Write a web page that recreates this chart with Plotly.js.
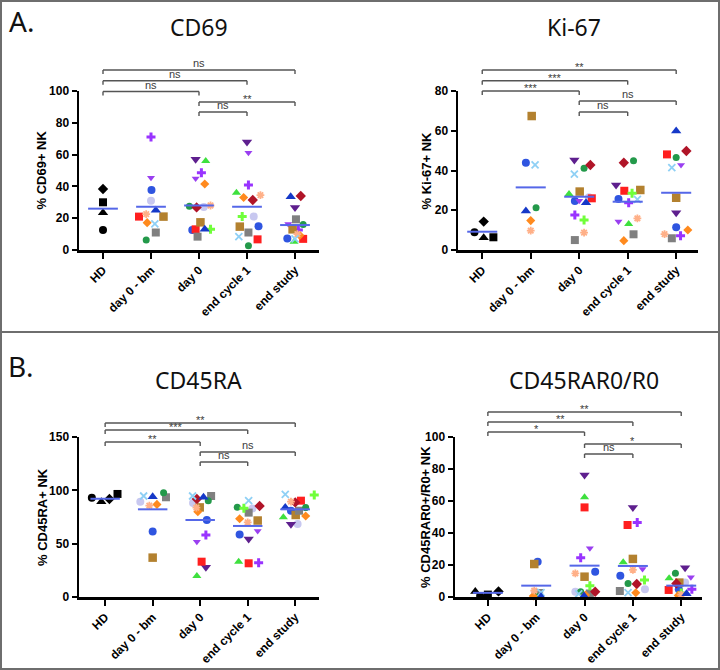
<!DOCTYPE html>
<html><head><meta charset="utf-8">
<script src="https://cdn.plot.ly/plotly-3.0.1.min.js"></script>
<style>html,body{margin:0;padding:0;background:#fff}#chart{width:720px;height:670px}</style>
</head><body><div id="chart"></div>
<script>
// ---------------- DATA ----------------
const GROUPS = ["HD", "day 0 - bm", "day 0", "end cycle 1", "end study"];
const SUBJECTS = ["HD 1","HD 2","HD 3","HD 4","Pt 1","Pt 2","Pt 3","Pt 4","Pt 5","Pt 6","Pt 7","Pt 8","Pt 9","Pt 10","Pt 11","Pt 12","Pt 13","Pt 14","Pt 15","Pt 16"];

// rows = SUBJECTS, columns = GROUPS (null = not measured / not shown)
const CD69_VALUES = [
 [12.6,null,null,null,null],[30,null,null,null,null],[23.5,null,null,null,null],[38.4,null,null,null,null],
 [null,37.7,12.6,15,7.3],[null,31,27,21,null],[null,null,57,68,26.8],[null,45.5,45,61.2,16.4],
 [null,71,48.6,40.9,12.6],[null,21,13,6.7,7],[null,21,17.4,14.7,13],[null,11,8.4,11,19.3],
 [null,6.3,27.5,2.7,16],[null,null,56,36,5.2],[null,null,13,21,null],[null,null,26.8,31.4,34],
 [null,17.2,41.5,33,9.2],[null,22.6,28,34.5,10],[null,16.4,null,8.4,7],[null,25,13,null,33.5]
];
const CD69_MEANS = [26, 27.2, 28, 27.2, 15.7];
const CD69_TESTS = [[0,4,"ns"],[0,3,"ns"],[0,2,"ns"],[2,4,"**"],[2,3,"ns"]];

const KI67_VALUES = [
 [8.9,null,null,null,null],[6.4,null,null,null,null],[6.2,null,null,null,null],[14.3,null,null,null,null],
 [null,43.9,24.7,25.7,11.4],[null,null,26.5,null,null],[null,null,45.3,32.7,18.8],[null,null,24.8,14.3,42.8],
 [null,null,17.6,23.8,7.2],[null,null,26,29.8,48.1],[null,67.4,29.4,30.2,26.3],[null,null,5,7.9,5.9],
 [null,21.3,41.1,44.9,46.5],[null,null,28.2,13.1,null],[null,null,15.1,28.5,null],[null,null,42.8,43.9,49.8],
 [null,14.8,null,4.7,10.1],[null,9.7,8.7,15.9,8],[null,42.8,38.2,25.5,41.4],[null,19.6,23.8,null,59.9]
];
const KI67_MEANS = [9.2, 31.5, 26.8, 24.3, 28.8];
const KI67_TESTS = [[0,4,"**"],[0,3,"***"],[0,2,"***"],[2,4,"ns"],[2,3,"ns"]];

const CD45RA_VALUES = [
 [93.1,null,null,null,null],[96.6,null,null,null,null],[89.4,null,null,null,null],[91.9,null,null,null,null],
 [null,61.3,72.2,58.7,80.9],[null,89.4,88.1,83,68.4],[null,null,27.8,54.4,68.1],[null,null,51.9,61.9,null],
 [null,null,58.1,32.2,null],[null,null,33.1,31.6,90.3],[null,36.9,84,71.7,76.9],[null,93.5,94.7,79.1,80.9],
 [null,97.8,90.3,84.1,83.8],[null,null,19.7,33.1,74.7],[null,null,null,83.1,95.6],[null,null,91.9,85.3,88.7],
 [null,86.8,80,73.4,75.9],[null,85.6,83.7,70,89.4],[null,94.7,94.7,90.3,96.2],[null,94.1,93.4,null,83.8]
];
const CD45RA_MEANS = [92.1, 82.2, 72.2, 66.6, 82.2];
const CD45RA_TESTS = [[0,4,"**"],[0,3,"***"],[0,2,"**"],[2,4,"ns"],[2,3,"ns"]];

const RAR0_VALUES = [
 [0.6,null,null,null,null],[1.5,null,null,null,null],[3.5,null,null,null,null],[3.5,null,null,null,null],
 [null,22.1,15.8,13.3,4.8],[null,3.3,3.3,4.8,9],[null,null,76.3,56,18.3],[null,null,30.4,17.5,12.3],
 [null,null,24.6,46.5,4.8],[null,null,56,45,4.4],[null,20.6,12.7,23.8,9],[null,2.5,2.2,3.75,null],
 [null,0.4,3.3,8.5,14.8],[null,null,62.3,21.7,11.7],[null,null,7.1,10.6,2.5],[null,null,3.3,8.1,8.5],
 [null,0.6,1.2,2.7,1],[null,4,14.8,17,1.5],[null,2.7,1.9,2.7,null],[null,0.2,0.6,null,2]
];
const RAR0_MEANS = [2.6, 7.1, 19.6, 19.4, 7.1];
const RAR0_TESTS = [[0,4,"**"],[0,3,"**"],[0,2,"*"],[2,4,"*"],[2,3,"ns"]];

// ---------------- POSITIONS / STYLES ----------------
// horizontal scatter offset of each point inside its category (category units)
const CD69_JITTER = [
 [0,0,0,0,0],[0,0,0,0,0],[0,0,0,0,0],[0,0,0,0,0],
 [0,0.01,-0.14,0.24,-0.16],[0,0,0.1,0.14,0],[0,0,-0.07,0,0],[0,0,-0.07,0.03,-0.14],
 [0,0,0.05,0.03,0.07],[0,-0.25,-0.07,0.22,0.17],[0,0.26,0.03,-0.15,-0.05],[0,0.1,-0.03,0.03,0.02],
 [0,-0.1,-0.2,0.03,0.17],[0,0,0.14,-0.22,-0.02],[0,0,0.24,-0.1,0],[0,0,-0.05,0.12,0.12],
 [0,-0.08,0.12,-0.07,0.1],[0,-0.1,0.24,0.28,0.05],[0,0.08,0,-0.17,0],[0,0.1,0.12,0,-0.09]
];
const KI67_JITTER = [
 [-0.16,0,0,0,0],[0.23,0,0,0,0],[0.03,0,0,0,0],[0.03,0,0,0,0],
 [0,-0.1,-0.09,-0.19,0],[0,0,0.2,0,0],[0,0,-0.1,-0.24,0],[0,0,0,-0.19,0.1],
 [0,0,-0.09,0.02,0.09],[0,0,0.26,-0.07,-0.19],[0,0.02,0.01,0.26,0],[0,0,-0.09,0.12,-0.09],
 [0,0.11,0.1,0.12,0],[0,0,-0.21,0.02,0],[0,0,0.1,0.09,0],[0,0,0.23,-0.08,0.21],
 [0,0,0,-0.08,0.24],[0,0,0.1,0.2,-0.24],[0,0.09,-0.1,0.2,-0.09],[0,-0.1,0.14,0,0]
];
const CD45RA_JITTER = [
 [-0.28,0,0,0,0],[0.26,0,0,0,0],[-0.08,0,0,0,0],[0.09,0,0,0,0],
 [0,0,0.14,-0.17,-0.09],[0,-0.26,-0.15,0.1,0.05],[0,0,0.12,0.02,-0.09],[0,0,-0.07,0.21,0],
 [0,0,0.12,0.23,0],[0,0,0.03,0.02,0.12],[0,0,-0.01,0.21,0.01],[0,0.28,0.23,0.02,0.08],
 [0,0.23,0.17,-0.22,0.22],[0,0,-0.07,-0.19,-0.25],[0,0,0,-0.08,0.4],[0,0,-0.07,0.25,0],
 [0,0.09,-0.05,-0.17,0.22],[0,-0.07,-0.08,0,-0.09],[0,-0.19,-0.16,0.02,-0.21],[0,0,0.07,0,-0.21]
];
const RAR0_JITTER = [
 [-0.16,0,0,0,0],[0,0,0,0,0],[-0.26,0,0,0,0],[0.22,0,0,0,0],
 [0,0.03,0.22,-0.26,-0.05],[0,-0.03,-0.19,0.25,0.08],[0,0,0,0,0.08],[0,0,0.11,0.2,0.2],
 [0,0,-0.08,0.09,0.22],[0,0,0,-0.11,-0.26],[0,-0.04,0,0,-0.04],[0,0.06,0.11,-0.27,0],
 [0,-0.01,-0.08,-0.1,-0.12],[0,0,0,-0.2,-0.25],[0,0,0.11,0.24,0],[0,0,0.22,0.08,-0.1],
 [0,-0.06,0.02,0.06,-0.06],[0,-0.04,-0.19,0,0],[0,0.1,-0.12,-0.1,0],[0,0.1,-0.01,0,0.11]
];

const SYMBOLS = ['circle','square','triangle-up','diamond','circle','circle','triangle-down','triangle-down','cross','square','square','square','circle','triangle-up','cross','diamond','diamond','asterisk-open','x-thin-open','triangle-up'];
const COLORS = ['#000','#000','#000','#000','#2f55e0','#c8c8f0','#5e1f8e','#9a3ff0','#9933ff','#ff1f1f','#b3812f','#808080','#23994a','#3ee03e','#70ff3a','#b01428','#ff8a1e','#ffb088','#8fd0f5','#1538c8'];
const SIZES = [8,8,9,8, 8,8,9,7,7.5,8,8.5,8,7,8,7.5,8,7,6.5,7,9];

const W = 720, H = 670;
const py = px => 1 - px / H;

const PANELS = [
 {values:CD69_VALUES, jitter:CD69_JITTER, means:CD69_MEANS, tests:CD69_TESTS, title:'CD69', ytitle:'% CD69+ NK',
  xd:[79,319], xr:[-0.5,4.5], yd:[250,91], yr:[0,100], dtick:20, levels:[70,80.7,91.5,102,112], ytx:41, tx:199, ty:27},
 {values:KI67_VALUES, jitter:KI67_JITTER, means:KI67_MEANS, tests:KI67_TESTS, title:'Ki-67', ytitle:'% Ki-67+ NK',
  xd:[458,698], xr:[-0.5,4.45], yd:[250,91], yr:[0,80], dtick:20, levels:[70,80.7,91,101,112], ytx:426, tx:574, ty:27},
 {values:CD45RA_VALUES, jitter:CD45RA_JITTER, means:CD45RA_MEANS, tests:CD45RA_TESTS, title:'CD45RA', ytitle:'% CD45RA+ NK',
  xd:[79,319], xr:[-0.55,4.5], yd:[597,437], yr:[0,150], dtick:50, levels:[423,430,442,452,462], ytx:42, tx:198, ty:380},
 {values:RAR0_VALUES, jitter:RAR0_JITTER, means:RAR0_MEANS, tests:RAR0_TESTS, title:'CD45RAR0/R0', ytitle:'% CD45RAR0+/R0+ NK',
  xd:[455,702], xr:[-0.68,4.43], yd:[597,437], yr:[0,100], dtick:20, levels:[412,422,432,444,454], ytx:425, tx:584, ty:380}
];

const AXFONT = {family:'Liberation Sans, Arial, sans-serif', size:12, color:'#000', weight:'bold'};
const YTFONT = {family:'Liberation Sans, Arial, sans-serif', size:13, color:'#000', weight:'bold'};
const LABFONT = {family:'Liberation Sans, Arial, sans-serif', size:11, color:'rgb(60,60,60)'};
const traces = [];
const layout = {
  width:W, height:H, margin:{l:0,r:0,t:0,b:0}, paper_bgcolor:'#fff', plot_bgcolor:'rgba(0,0,0,0)',
  font:{family:'Liberation Sans, Arial, sans-serif', color:'#333'},
  showlegend:false, shapes:[], annotations:[]
};

PANELS.forEach((p, k) => {
  const n = k === 0 ? '' : String(k + 1);
  const xa = 'x' + n, ya = 'y' + n;
  layout['xaxis' + n] = {
    domain:[p.xd[0]/W, p.xd[1]/W], range:p.xr, anchor:ya,
    tickmode:'array', tickvals:GROUPS.map((g,i)=>i), ticktext:GROUPS, tickangle:-45,
    showline:true, linecolor:'#000', linewidth:2.5, ticks:'outside', ticklen:6, tickwidth:2, tickcolor:'#000',
    showgrid:false, zeroline:false, tickfont:AXFONT, fixedrange:true
  };
  layout['yaxis' + n] = {
    domain:[py(p.yd[0]), py(p.yd[1])], range:p.yr, anchor:xa, tick0:0, dtick:p.dtick,
    showline:true, linecolor:'#000', linewidth:2.5, ticks:'outside', ticklen:5, tickwidth:2, tickcolor:'#000',
    showgrid:false, zeroline:false, tickfont:AXFONT, fixedrange:true
  };
  // points, one trace per subject
  SUBJECTS.forEach((s, si) => {
    const xs = [], ys = [];
    p.values[si].forEach((v, gi) => { if (v !== null) { xs.push(gi + p.jitter[si][gi]); ys.push(v); } });
    if (!xs.length) return;
    const open = SYMBOLS[si].endsWith('-open');
    traces.push({
      type:'scatter', mode:'markers', name:s, x:xs, y:ys, xaxis:xa, yaxis:ya, cliponaxis:false,
      marker:{symbol:SYMBOLS[si], size:SIZES[si], color:COLORS[si],
        line:{width: open ? 1.8 : 0, color:COLORS[si]}}
    });
  });
  // mean lines
  const mx = [], my = [];
  p.means.forEach((m, gi) => { mx.push(gi - 0.31, gi + 0.31, null); my.push(m, m, null); });
  traces.push({type:'scatter', mode:'lines', x:mx, y:my, xaxis:xa, yaxis:ya, cliponaxis:false,
    line:{color:'#5567e8', width:2}, hoverinfo:'skip'});
  // significance brackets (category centre -> paper fraction through the axis domain/range)
  const catPaper = i => (p.xd[0] + (i - p.xr[0]) / (p.xr[1] - p.xr[0]) * (p.xd[1] - p.xd[0])) / W;
  p.tests.forEach((t, ti) => {
    const yl = p.levels[ti];
    const x0 = catPaper(t[0]), x1 = catPaper(t[1]);
    const base = {type:'line', xref:'paper', yref:'paper', line:{color:'#555555', width:1.4}};
    layout.shapes.push(Object.assign({}, base, {x0:x0, x1:x1, y0:py(yl), y1:py(yl)}));
    layout.shapes.push(Object.assign({}, base, {x0:x0, x1:x0, y0:py(yl), y1:py(yl + 4)}));
    layout.shapes.push(Object.assign({}, base, {x0:x1, x1:x1, y0:py(yl), y1:py(yl + 4)}));
    const star = t[2].indexOf('*') >= 0;
    layout.annotations.push({xref:'paper', yref:'paper', x:(x0 + x1) / 2, y:py(yl - (star ? 3 : 7)),
      text:t[2], showarrow:false, xanchor:'center', yanchor:'middle', font:LABFONT});
  });
  // titles
  layout.annotations.push({xref:'paper', yref:'paper', x:p.tx / W, y:py(p.ty), text:p.title, showarrow:false,
    xanchor:'center', yanchor:'middle', font:{family:'Noto Sans, sans-serif', size:23, color:'#111'}});
  layout.annotations.push({xref:'paper', yref:'paper', x:p.ytx / W, y:(py(p.yd[0]) + py(p.yd[1])) / 2,
    text:p.ytitle, textangle:-90, showarrow:false, xanchor:'center', yanchor:'middle', font:YTFONT});
});

// panel letters
layout.annotations.push({xref:'paper', yref:'paper', x:21 / W, y:py(21), text:'A.', showarrow:false,
  xanchor:'center', yanchor:'middle', font:{family:'Noto Sans, sans-serif', size:28, color:'#111'}});
layout.annotations.push({xref:'paper', yref:'paper', x:20 / W, y:py(366), text:'B.', showarrow:false,
  xanchor:'center', yanchor:'middle', font:{family:'Noto Sans, sans-serif', size:28, color:'#111'}});

// frame and divider
layout.shapes.push({type:'rect', xref:'paper', yref:'paper', x0:1/W, x1:1 - 1/W, y0:1/H, y1:1 - 1/H,
  line:{color:'#6e6e6e', width:2}});
layout.shapes.push({type:'line', xref:'paper', yref:'paper', x0:0, x1:1, y0:py(332), y1:py(332),
  line:{color:'#6e6e6e', width:2}});

Plotly.newPlot('chart', traces, layout, {displayModeBar:false, staticPlot:true});
</script>
</body></html>
